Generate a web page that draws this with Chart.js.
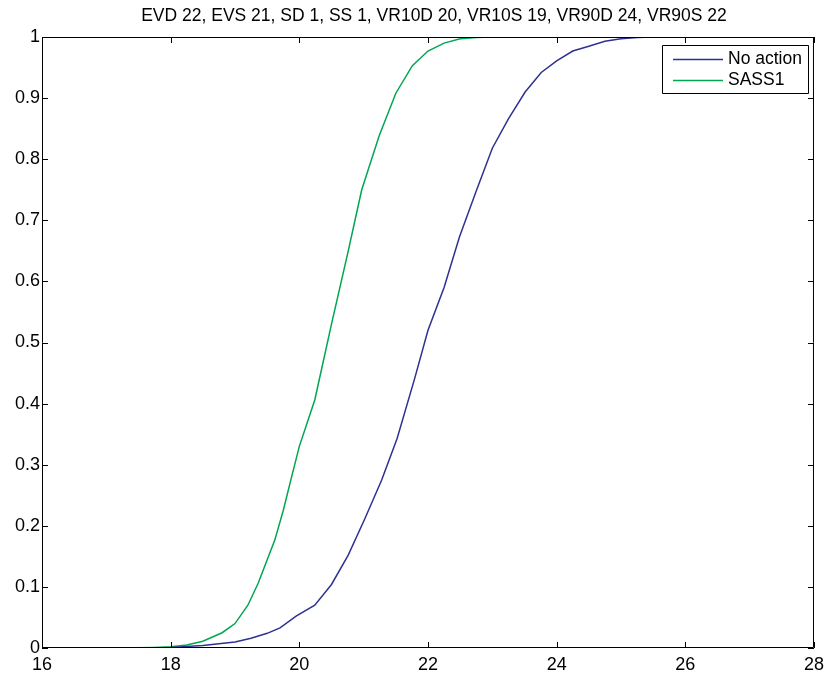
<!DOCTYPE html>
<html>
<head>
<meta charset="utf-8">
<script src="https://cdn.jsdelivr.net/npm/chart.js@4"></script>
<style>
  html, body { margin: 0; padding: 0; background: #fff; }
  #wrap { width: 830px; height: 673px; }
</style>
</head>
<body>
<div id="wrap"><canvas id="myChart"></canvas></div>
<script>
const titleText = 'EVD 22, EVS 21, SD 1, SS 1, VR10D 20, VR10S 19, VR90D 24, VR90S 22';
const seriesNames = ['No action', 'SASS1'];

// x values and cumulative fractions
const noActionX = [17.2, 17.5, 18.0, 18.5, 19.0, 19.25, 19.5, 19.7, 19.95, 20.24, 20.5, 20.76, 21.02, 21.28, 21.52, 21.79, 22.0, 22.25, 22.49, 22.75, 23.0, 23.25, 23.51, 23.76, 24.0, 24.25, 24.5, 24.75, 25.0, 25.25, 25.5, 27.0];
const noActionY = [0, 0, 0.001, 0.004, 0.01, 0.016, 0.024, 0.033, 0.052, 0.070, 0.104, 0.152, 0.212, 0.275, 0.343, 0.44, 0.52, 0.59, 0.673, 0.748, 0.818, 0.866, 0.91, 0.942, 0.961, 0.977, 0.985, 0.993, 0.997, 0.999, 1, 1];

const sassX = [17.2, 17.5, 17.75, 18.0, 18.25, 18.5, 18.8, 19.0, 19.2, 19.36, 19.62, 19.75, 19.88, 20.0, 20.24, 20.5, 20.75, 20.97, 21.24, 21.5, 21.757, 22.0, 22.25, 22.5, 22.75, 23.0, 23.75];
const sassY = [0, 0.0005, 0.001, 0.002, 0.005, 0.011, 0.025, 0.04, 0.07, 0.106, 0.177, 0.225, 0.28, 0.33, 0.406, 0.53, 0.645, 0.75, 0.838, 0.908, 0.953, 0.977, 0.99, 0.997, 0.999, 1, 1];

const xTicks = [16, 18, 20, 22, 24, 26, 28];
const yTicks = [0, 0.1, 0.2, 0.3, 0.4, 0.5, 0.6, 0.7, 0.8, 0.9, 1];

const colors = ['#2e3192', '#00a651'];
const fontFamily = '"Liberation Sans", Arial, Helvetica, sans-serif';

function toPoints(xs, ys) {
  return xs.map((x, i) => ({ x: x, y: ys[i] }));
}

// box, inward ticks, title and legend drawn the matlab way
const matlabFrame = {
  id: 'matlabFrame',
  afterDraw(chart) {
    const ctx = chart.ctx;
    const area = chart.chartArea;
    const xs = chart.scales.x;
    const ys = chart.scales.y;
    ctx.save();
    ctx.strokeStyle = '#000';
    ctx.lineWidth = 1;
    ctx.beginPath();
    ctx.rect(area.left + 0.5, area.top + 0.5, area.right - area.left - 1, area.bottom - area.top - 1);
    ctx.stroke();

    const len = 6;
    ctx.beginPath();
    xTicks.forEach(v => {
      const px = Math.round(xs.getPixelForValue(v)) + 0.5;
      ctx.moveTo(px, area.bottom);
      ctx.lineTo(px, area.bottom - len);
      ctx.moveTo(px, area.top);
      ctx.lineTo(px, area.top + len);
    });
    yTicks.forEach(v => {
      const py = Math.round(ys.getPixelForValue(v)) + 0.5;
      ctx.moveTo(area.left, py);
      ctx.lineTo(area.left + len, py);
      ctx.moveTo(area.right, py);
      ctx.lineTo(area.right - len, py);
    });
    ctx.stroke();

    // title
    ctx.fillStyle = '#000';
    ctx.font = '17.5px ' + fontFamily;
    ctx.textAlign = 'center';
    ctx.textBaseline = 'middle';
    ctx.fillText(titleText, 434, 16);

    // legend
    const lx = 662, ly = 45, lw = 146, lh = 48;
    ctx.fillStyle = '#fff';
    ctx.fillRect(lx, ly, lw, lh);
    ctx.strokeStyle = '#000';
    ctx.lineWidth = 1;
    ctx.beginPath();
    ctx.rect(lx + 0.5, ly + 0.5, lw, lh);
    ctx.stroke();
    ctx.font = '17.5px ' + fontFamily;
    ctx.textAlign = 'left';
    chart.data.datasets.forEach((ds, i) => {
      const yy = ly + 14.5 + i * 21;
      ctx.strokeStyle = ds.borderColor;
      ctx.lineWidth = 1.5;
      ctx.beginPath();
      ctx.moveTo(lx + 11, yy);
      ctx.lineTo(lx + 61, yy);
      ctx.stroke();
      ctx.fillStyle = '#000';
      ctx.fillText(ds.label, lx + 66, yy);
    });
    ctx.restore();
  }
};

const config = {
  type: 'line',
  data: {
    datasets: [
      {
        label: seriesNames[0],
        data: toPoints(noActionX, noActionY),
        borderColor: colors[0],
        borderWidth: 1.5,
        pointRadius: 0,
        tension: 0
      },
      {
        label: seriesNames[1],
        data: toPoints(sassX, sassY),
        borderColor: colors[1],
        borderWidth: 1.5,
        pointRadius: 0,
        tension: 0
      }
    ]
  },
  options: {
    responsive: true,
    maintainAspectRatio: false,
    animation: false,
    layout: { padding: { top: 37, right: 12, left: 0, bottom: 0 } },
    plugins: {
      legend: { display: false },
      title: { display: false },
      tooltip: { enabled: false }
    },
    scales: {
      x: {
        type: 'linear',
        min: 16,
        max: 28,
        afterBuildTicks: scale => { scale.ticks = xTicks.map(v => ({ value: v })); },
        afterFit: scale => { scale.height = 25; },
        grid: { display: false, drawTicks: false },
        border: { display: false },
        ticks: { color: '#000', padding: 6, font: { family: fontFamily, size: 18 }, maxRotation: 0 }
      },
      y: {
        type: 'linear',
        min: 0,
        max: 1,
        afterBuildTicks: scale => { scale.ticks = yTicks.map(v => ({ value: v })); },
        afterFit: scale => { scale.width = 42; },
        grid: { display: false, drawTicks: false },
        border: { display: false },
        ticks: {
          color: '#000',
          padding: 2,
          font: { family: fontFamily, size: 18 },
          callback: v => String(parseFloat(v.toFixed(1)))
        }
      }
    }
  },
  plugins: [matlabFrame]
};

const myChart = new Chart(document.getElementById('myChart'), config);
</script>
</body>
</html>
